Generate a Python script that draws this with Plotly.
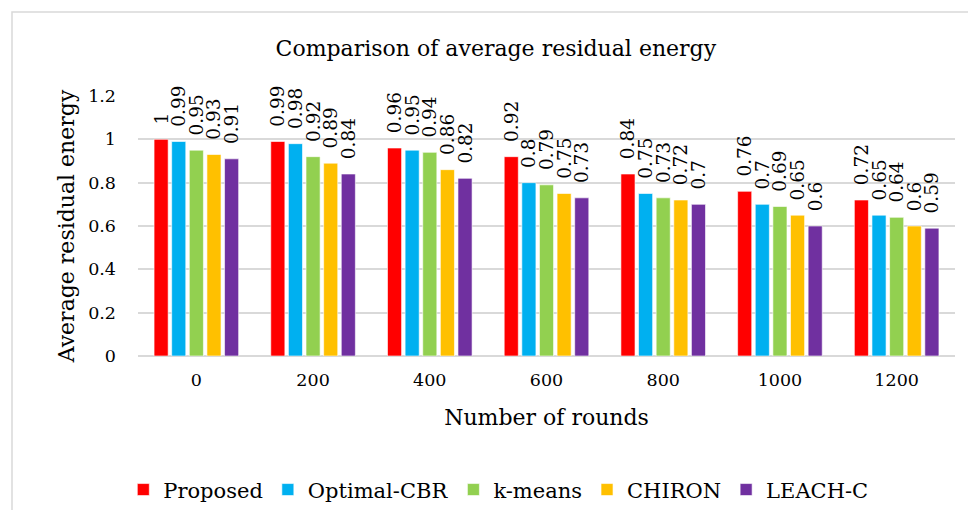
import plotly.graph_objects as go

categories = ["0", "200", "400", "600", "800", "1000", "1200"]
series_names = ["Proposed", "Optimal-CBR", "k-means", "CHIRON", "LEACH-C"]
proposed = [1.0, 0.99, 0.96, 0.92, 0.84, 0.76, 0.72]
optimal_cbr = [0.99, 0.98, 0.95, 0.80, 0.75, 0.70, 0.65]
kmeans = [0.95, 0.92, 0.94, 0.79, 0.73, 0.69, 0.64]
chiron = [0.93, 0.89, 0.86, 0.75, 0.72, 0.65, 0.60]
leach_c = [0.91, 0.84, 0.82, 0.73, 0.70, 0.60, 0.59]
y_ticks = [0, 0.2, 0.4, 0.6, 0.8, 1, 1.2]
y_tick_labels = ["0", "0.2", "0.4", "0.6", "0.8", "1", "1.2"]

colors = ["#FF0000", "#00B0F0", "#92D050", "#FFC000", "#7030A0"]
series = [proposed, optimal_cbr, kmeans, chiron, leach_c]

FONT = "DejaVu Serif"

W, H = 960, 502
fig = go.Figure()
for name, vals, col in zip(series_names, series, colors):
    fig.add_trace(go.Bar(
        x=categories, y=vals, name=name,
        marker=dict(color=col, line=dict(color="rgba(255,255,255,0.6)", width=1)),
        text=[f"{v:g}" for v in vals],
        texttemplate="\u00a0\u00a0%{text}",
        textposition="outside", textangle=-90,
        constraintext="none",
        textfont=dict(family=FONT, size=18.5, color="black"),
        outsidetextfont=dict(family=FONT, size=18.5, color="black"),
        cliponaxis=False,
    ))

fig.update_layout(
    width=W, height=H,
    paper_bgcolor="white", plot_bgcolor="white",
    margin=dict(l=130, r=13, t=88, b=154, autoexpand=False),
    barmode="group", bargap=0.245, bargroupgap=0.2,
    font=dict(family=FONT, color="black", size=17),
    title=dict(text="Comparison of average residual energy",
               font=dict(family=FONT, size=22, color="black"),
               x=0.438, xref="paper", xanchor="center",
               y=1 - 40 / H, yref="container", yanchor="middle"),
    showlegend=True,
    legend=dict(orientation="h", x=0.441, xanchor="center", y=-0.515, yanchor="middle",
                font=dict(family=FONT, size=21, color="black"), itemwidth=30,
                traceorder="normal"),
)
fig.update_xaxes(
    type="category", showgrid=False, showline=False, ticks="", automargin=False,
    tickfont=dict(family=FONT, size=17.5), ticklabelstandoff=11,
    title=dict(text="Number of rounds", font=dict(family=FONT, size=22), standoff=21),
)
fig.update_yaxes(
    range=[0, 1.2], tickvals=y_ticks, ticktext=y_tick_labels, automargin=False,
    showgrid=True, gridcolor="#d9d9d9", gridwidth=1.5,
    zeroline=True, zerolinecolor="#d9d9d9", zerolinewidth=1.5,
    showline=False, ticks="",
    tickfont=dict(family=FONT, size=17.5), ticklabelstandoff=21,
    title=dict(text="Average residual energy", font=dict(family=FONT, size=22), standoff=7),
)
fig.add_shape(type="rect", xref="paper", yref="paper",
              x0=(4 - 130) / 817, x1=1.2, y0=-1.0, y1=(348 - 4) / 260,
              line=dict(color="#d9d9d9", width=1.5), fillcolor="rgba(0,0,0,0)", layer="below")

fig.write_html("out.html")
